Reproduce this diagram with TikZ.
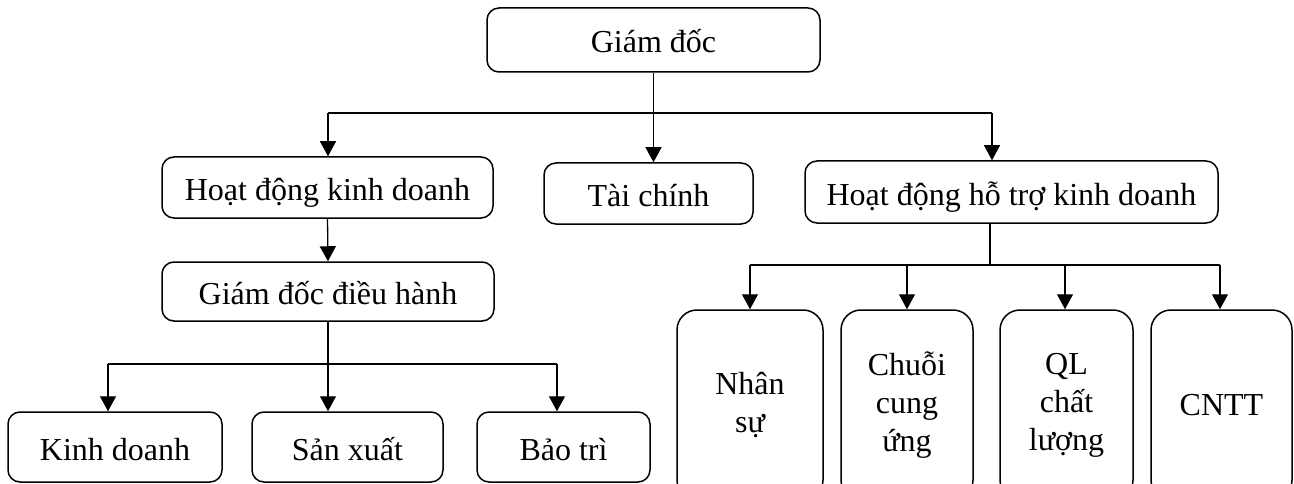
\documentclass[tikz,border=0pt]{standalone}
\usepackage{fontspec}
\setmainfont{Liberation Serif}
\usetikzlibrary{arrows.meta}
\begin{document}
\begin{tikzpicture}[x=1pt,y=-1pt,
  frame/.style={draw, line width=1.5pt, inner sep=0pt,
    font=\fontsize{32}{38}\selectfont, align=center},
  box/.style={frame, rounded corners=12pt, text height=26pt, text depth=0pt},
  tallbox/.style={frame, rounded corners=20pt},
  arr/.style={line width=1.3pt, -{Triangle[width=16pt,length=15pt]}},
  ln/.style={line width=1.3pt}]
\useasboundingbox (0,0) rectangle (1294,484);
\clip (0,0) rectangle (1294,484);

% top level
\node[box, minimum width=333pt, minimum height=64pt] (gd) at (653.5,40) {Giám đốc};

% second level
\node[box, minimum width=331pt, minimum height=61pt] (hdkd) at (327.5,187.5) {Hoạt động kinh doanh};
\node[box, minimum width=209pt, minimum height=61pt] (tc) at (648.5,193.5) {Tài chính};
\node[box, minimum width=413pt, minimum height=62pt] (hdht) at (1011.5,192) {Hoạt động hỗ trợ kinh doanh};

% operations branch
\node[box, minimum width=332pt, minimum height=59pt] (gddh) at (328,291.5) {Giám đốc điều hành};
\node[box, minimum width=214pt, minimum height=70pt] (kd) at (115,447) {Kinh doanh};
\node[box, minimum width=191pt, minimum height=70pt] (sx) at (347.5,447) {Sản xuất};
\node[box, minimum width=173pt, minimum height=70pt] (bt) at (563.5,447) {Bảo trì};

% support branch
\node[tallbox, minimum width=146pt, minimum height=190pt] (ns) at (750,405) {Nhân\\sự};
\node[tallbox, minimum width=132pt, minimum height=190pt] (ccu) at (907,405) {Chuỗi\\cung\\ứng};
\node[tallbox, minimum width=133pt, minimum height=190pt] (ql) at (1066.5,405) {QL\\chất\\lượng};
\node[tallbox, minimum width=141pt, minimum height=190pt] (cntt) at (1221.5,405) {CNTT};

% connectors from the director
\coordinate (bl) at (328,113);
\coordinate (br) at (992,113);
\draw[ln] (bl) -- (br);
\draw[arr] (gd.south) -- (gd.south |- tc.north);
\draw[arr] (bl) -- (bl |- hdkd.north);
\draw[arr] (br) -- (br |- hdht.north);

% operations connectors
\draw[arr] (hdkd.south) -- (gddh.north);
\coordinate (kl) at (108,364);
\coordinate (kr) at (557,364);
\draw[ln] (kl) -- (kr);
\draw[arr] (gddh.south) -- (gddh.south |- sx.north);
\draw[arr] (kl) -- (kl |- kd.north);
\draw[arr] (kr) -- (kr |- bt.north);

% support connectors
\coordinate (hx) at (990,265);
\coordinate (n1) at (750,265);
\coordinate (n2) at (907,265);
\coordinate (n3) at (1065,265);
\coordinate (n4) at (1220,265);
\draw[ln] (hx |- hdht.south) -- (hx);
\draw[ln] (n1) -- (n4);
\draw[arr] (n1) -- (n1 |- ns.north);
\draw[arr] (n2) -- (n2 |- ccu.north);
\draw[arr] (n3) -- (n3 |- ql.north);
\draw[arr] (n4) -- (n4 |- cntt.north);
\end{tikzpicture}
\end{document}
